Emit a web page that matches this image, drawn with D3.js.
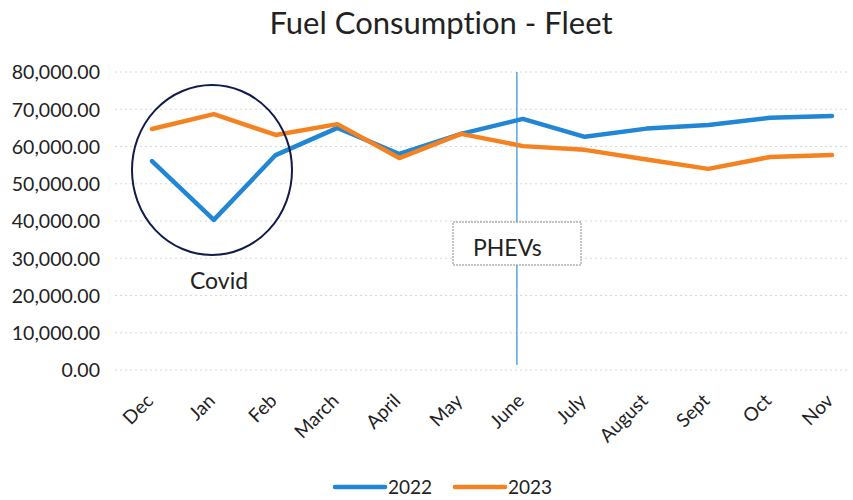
<!DOCTYPE html>
<html><head><meta charset="utf-8">
<script src="https://cdn.jsdelivr.net/npm/d3@7"></script>
<style>body{margin:0;background:#fff}svg{display:block}text{font-family:Lato,"Open Sans",sans-serif;fill:#222;font-variant-ligatures:none}</style>
</head><body><svg id="c" width="853" height="500"></svg>
<script>
const months = ["Dec","Jan","Feb","March","April","May","June","July","August","Sept","Oct","Nov"];
const v2022 = [56100,40300,57700,65000,58000,63400,67400,62600,64800,65800,67700,68200];
const v2023 = [64700,68700,63100,66000,56900,63400,60100,59100,56500,54000,57200,57700];
const yTicks = [0,10000,20000,30000,40000,50000,60000,70000,80000];
const seriesNames = ["2022","2023"];
const colors = ["#2186d4","#f58220"];

const svg = d3.select("#c");
const x = d3.scalePoint().domain(months).range([152,832]);
const y = d3.scaleLinear().domain([0,80000]).range([370,72]);

// gridlines
svg.append("g").selectAll("line").data(yTicks).join("line")
  .attr("x1",115).attr("x2",850).attr("y1",d=>y(d)).attr("y2",d=>y(d))
  .attr("stroke","#d8d8d8").attr("stroke-width",1).attr("stroke-dasharray","2,3");

// y axis
const yAx = svg.append("g").attr("transform","translate(100,0)")
  .call(d3.axisLeft(y).tickValues(yTicks).tickSize(0).tickPadding(0).tickFormat(d3.format(",.2f")));
yAx.select(".domain").remove();
yAx.selectAll("text").style("font-size","19.5px").attr("fill","#222").attr("dy","0.35em");

// x axis
const xAx = svg.append("g").attr("transform","translate(0,372)")
  .call(d3.axisBottom(x).tickSize(0).tickPadding(0));
xAx.select(".domain").remove();
xAx.selectAll("text").style("font-size","19px").attr("fill","#222")
  .attr("text-anchor","end").attr("dy","0").attr("transform","translate(2,30) rotate(-45)");

// vertical PHEV line
svg.append("line").attr("x1",x("June")-6).attr("x2",x("June")-6).attr("y1",72).attr("y2",365)
  .attr("stroke","#2a90d8").attr("stroke-width",1.2);

// lines
const line = d3.line().x((d,i)=>x(months[i])).y(d=>y(d));
[v2022,v2023].forEach((s,k)=>{
  svg.append("path").datum(s).attr("d",line).attr("fill","none")
    .attr("stroke",colors[k]).attr("stroke-width",4.5).attr("stroke-linejoin","round").attr("stroke-linecap","round");
});

// PHEVs box
svg.append("rect").attr("x",453).attr("y",222).attr("width",128).attr("height",43)
  .attr("fill","#fff").attr("stroke","#8a8a8a").attr("stroke-width",1).attr("stroke-dasharray","2,1");
svg.append("text").attr("x",473).attr("y",256).style("font-size","23px").text("PHEVs");

// Covid circle
svg.append("ellipse").attr("cx",212).attr("cy",170).attr("rx",80).attr("ry",85)
  .attr("fill","none").attr("stroke","#101c4a").attr("stroke-width",2);
svg.append("text").attr("x",219).attr("y",289).attr("text-anchor","middle").style("font-size","23px").text("Covid");

// title
svg.append("text").attr("x",441).attr("y",34).attr("text-anchor","middle").style("font-size","31px").text("Fuel Consumption - Fleet");

// legend
const lg = svg.append("g");
seriesNames.forEach((n,k)=>{
  const lx = 335 + k*120;
  lg.append("line").attr("x1",lx).attr("x2",lx+50).attr("y1",487).attr("y2",487)
    .attr("stroke",colors[k]).attr("stroke-width",4.5).attr("stroke-linecap","round");
  lg.append("text").attr("x",lx+53).attr("y",494).style("font-size","19px").text(n);
});
</script></body></html>
